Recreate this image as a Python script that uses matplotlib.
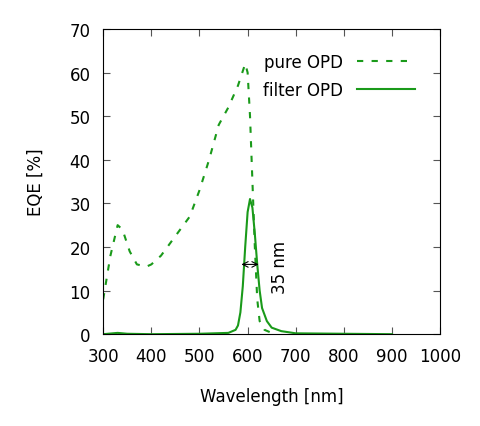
import matplotlib
matplotlib.use("Agg")
import matplotlib.pyplot as plt

pure_wl = [300, 315, 330, 340, 355, 370, 390, 400, 420, 440, 460, 480, 500, 520, 540, 560, 580, 595,
           600, 605, 610, 615, 620, 625, 635, 650]
pure_eqe = [8, 18, 25, 24, 19, 16, 15.5, 16, 18, 21, 24, 27, 33, 40, 48, 52, 57, 62,
            60, 50, 35, 20, 8, 3, 1, 0.3]

filt_wl = [300, 330, 350, 400, 500, 560, 575, 580, 585, 590, 595, 600, 605, 610, 615, 620, 625,
           630, 640, 650, 670, 700, 800, 900]
filt_eqe = [0, 0.3, 0.1, 0, 0.1, 0.3, 1, 2, 5, 11, 20, 28, 31, 29, 23, 16, 10,
            6, 3, 1.5, 0.7, 0.2, 0.1, 0]

green = "#1a9a1a"
fig = plt.figure(figsize=(4.8, 4.27), dpi=100)
ax = fig.add_axes([0.215, 0.215, 0.702, 0.715])
ax.plot(pure_wl, pure_eqe, color=green, ls=(0, (3, 4)), lw=1.5, label="pure OPD")
ax.plot(filt_wl, filt_eqe, color=green, lw=1.5, label="filter OPD")
ax.annotate("", xy=(587, 16), xytext=(623, 16),
            arrowprops=dict(arrowstyle="<->", color="black", lw=0.8, shrinkA=0, shrinkB=0))
ax.text(668, 15.5, "35 nm", rotation=90, ha="center", va="center", fontsize=12)
ax.set_xlim(300, 1000)
ax.set_ylim(0, 70)
ax.set_xticks(range(300, 1001, 100))
ax.set_yticks(range(0, 71, 10))
ax.tick_params(direction="in", top=True, right=True, labelsize=12, length=5, color="#555555")
ax.tick_params(axis="x", pad=9)
ax.tick_params(axis="y", pad=9)
ax.set_xlabel("Wavelength [nm]", fontsize=12, labelpad=16)
ax.set_ylabel("EQE [%]", fontsize=12, labelpad=18)
ax.legend(loc="upper right", frameon=False, fontsize=12, markerfirst=False,
          handlelength=3.5, handletextpad=0.8, labelspacing=0.6,
          bbox_to_anchor=(0.97, 0.97))
fig.savefig("out.png", dpi=100)
